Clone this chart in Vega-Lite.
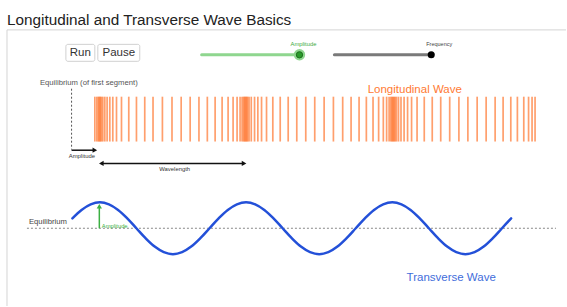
{
  "$schema": "https://vega.github.io/schema/vega-lite/v6.json",
  "width": 567,
  "height": 307,
  "padding": 0,
  "autosize": {"type": "fit", "contains": "padding"},
  "background": "white",
  "config": {"view": {"stroke": null}, "font": "Liberation Sans"},
  "encoding": {
    "x": {"field": "x", "type": "quantitative", "scale": {"domain": [0, 567], "nice": false, "zero": false}, "axis": null},
    "y": {"field": "y", "type": "quantitative", "scale": {"domain": [0, 307], "nice": false, "zero": false, "reverse": true}, "axis": null}
  },
  "layer": [
    {
      "data": {"values": [{"x": 7, "y": 30, "x2": 567, "y2": 30}, {"x": 7, "y": 30, "x2": 7, "y2": 307}]},
      "mark": {"type": "rule", "color": "#d4d4d4", "strokeWidth": 1},
      "encoding": {"x2": {"field": "x2"}, "y2": {"field": "y2"}}
    },
    {
      "data": {"values": [{"x": 7, "y": 25, "t": "Longitudinal and Transverse Wave Basics"}]},
      "mark": {"type": "text", "align": "left", "baseline": "alphabetic", "fontSize": 15.3, "color": "#222222"},
      "encoding": {"text": {"field": "t"}}
    },
    {
      "data": {"values": [{"x": 66, "x2": 95, "y": 44.5, "y2": 61.5}, {"x": 98, "x2": 140, "y": 44.5, "y2": 61.5}]},
      "mark": {"type": "rect", "fill": "white", "stroke": "#d0d0d0", "strokeWidth": 1, "cornerRadius": 2},
      "encoding": {"x2": {"field": "x2"}, "y2": {"field": "y2"}}
    },
    {
      "data": {"values": [{"x": 80.5, "y": 53, "t": "Run"}, {"x": 119, "y": 53, "t": "Pause"}]},
      "mark": {"type": "text", "align": "center", "baseline": "middle", "fontSize": 11.5, "color": "#333333"},
      "encoding": {"text": {"field": "t"}}
    },
    {
      "data": {"values": [{"x": 202, "x2": 300, "y": 55}]},
      "mark": {"type": "rule", "color": "#8fd68f", "strokeWidth": 3, "strokeCap": "round"},
      "encoding": {"x2": {"field": "x2"}}
    },
    {
      "data": {"values": [{"x": 335, "x2": 432, "y": 55}]},
      "mark": {"type": "rule", "color": "#7a7a7a", "strokeWidth": 3, "strokeCap": "round"},
      "encoding": {"x2": {"field": "x2"}}
    },
    {
      "data": {"values": [{"x": 300, "y": 55}]},
      "mark": {"type": "point", "shape": "circle", "filled": true, "size": 130, "color": "#8fd68f", "opacity": 1}
    },
    {
      "data": {"values": [{"x": 300, "y": 55}]},
      "mark": {"type": "point", "shape": "circle", "filled": true, "size": 40, "color": "#2a9a2a", "stroke": "#1a6e1a", "strokeWidth": 1, "opacity": 1}
    },
    {
      "data": {"values": [{"x": 432, "y": 55}]},
      "mark": {"type": "point", "shape": "circle", "filled": true, "size": 50, "color": "#000000", "opacity": 1}
    },
    {
      "data": {"values": [{"x": 304, "y": 44, "t": "Amplitude"}]},
      "mark": {"type": "text", "align": "center", "baseline": "middle", "fontSize": 5.8, "color": "#3daa3d"},
      "encoding": {"text": {"field": "t"}}
    },
    {
      "data": {"values": [{"x": 440, "y": 44, "t": "Frequency"}]},
      "mark": {"type": "text", "align": "center", "baseline": "middle", "fontSize": 5.5, "color": "#444444"},
      "encoding": {"text": {"field": "t"}}
    },
    {
      "data": {"values": [{"x": 40, "y": 83, "t": "Equilibrium (of first segment)"}]},
      "mark": {"type": "text", "align": "left", "baseline": "middle", "fontSize": 7.7, "color": "#555555"},
      "encoding": {"text": {"field": "t"}}
    },
    {
      "data": {"values": [{"x": 71.7, "y": 89, "y2": 150}]},
      "mark": {"type": "rule", "color": "#555555", "strokeWidth": 1, "strokeDash": [2, 2]},
      "encoding": {"y2": {"field": "y2"}}
    },
    {
      "data": {"values": [{"x": 71.7, "x2": 94, "y": 150.7}, {"x": 102, "x2": 244, "y": 164}]},
      "mark": {"type": "rule", "color": "#111111", "strokeWidth": 1.5},
      "encoding": {"x2": {"field": "x2"}}
    },
    {
      "data": {"values": [{"x": 95, "y": 150.7}, {"x": 244.5, "y": 164}]},
      "mark": {"type": "point", "shape": "triangle-right", "filled": true, "size": 28, "color": "#111111", "opacity": 1}
    },
    {
      "data": {"values": [{"x": 101.5, "y": 164}]},
      "mark": {"type": "point", "shape": "triangle-left", "filled": true, "size": 28, "color": "#111111", "opacity": 1}
    },
    {
      "data": {"values": [{"x": 82, "y": 157, "t": "Amplitude"}, {"x": 175, "y": 170, "t": "Wavelength"}]},
      "mark": {"type": "text", "align": "center", "baseline": "middle", "fontSize": 5.9, "color": "#333333"},
      "encoding": {"text": {"field": "t"}}
    },
    {
      "data": {"values": [
        {"x": 95, "y": 97, "y2": 142}, {"x": 97, "y": 97, "y2": 142}, {"x": 98.5, "y": 97, "y2": 142}, {"x": 99.5, "y": 97, "y2": 142},
        {"x": 100.5, "y": 97, "y2": 142}, {"x": 101.5, "y": 97, "y2": 142}, {"x": 103, "y": 97, "y2": 142}, {"x": 105, "y": 97, "y2": 142},
        {"x": 107.3, "y": 97, "y2": 142}, {"x": 110, "y": 97, "y2": 142}, {"x": 113, "y": 97, "y2": 142}, {"x": 116.7, "y": 97, "y2": 142},
        {"x": 121.7, "y": 97, "y2": 142}, {"x": 129, "y": 97, "y2": 142}, {"x": 136.7, "y": 97, "y2": 142}, {"x": 145, "y": 97, "y2": 142},
        {"x": 153.3, "y": 97, "y2": 142}, {"x": 162.7, "y": 97, "y2": 142}, {"x": 172.3, "y": 97, "y2": 142}, {"x": 181.5, "y": 97, "y2": 142},
        {"x": 190.5, "y": 97, "y2": 142}, {"x": 199.3, "y": 97, "y2": 142}, {"x": 207.7, "y": 97, "y2": 142}, {"x": 215.5, "y": 97, "y2": 142},
        {"x": 222.5, "y": 97, "y2": 142}, {"x": 228.5, "y": 97, "y2": 142}, {"x": 233.5, "y": 97, "y2": 142}, {"x": 237.5, "y": 97, "y2": 142},
        {"x": 240.5, "y": 97, "y2": 142}, {"x": 242.5, "y": 97, "y2": 142}, {"x": 244, "y": 97, "y2": 142}, {"x": 245, "y": 97, "y2": 142},
        {"x": 246, "y": 97, "y2": 142}, {"x": 247, "y": 97, "y2": 142}, {"x": 248, "y": 97, "y2": 142}, {"x": 249.5, "y": 97, "y2": 142},
        {"x": 251.7, "y": 97, "y2": 142}, {"x": 255, "y": 97, "y2": 142}, {"x": 258.3, "y": 97, "y2": 142}, {"x": 262, "y": 97, "y2": 142},
        {"x": 267, "y": 97, "y2": 142}, {"x": 273.3, "y": 97, "y2": 142}, {"x": 280.7, "y": 97, "y2": 142}, {"x": 288.7, "y": 97, "y2": 142},
        {"x": 297.3, "y": 97, "y2": 142}, {"x": 306.3, "y": 97, "y2": 142}, {"x": 315.3, "y": 97, "y2": 142}, {"x": 324.7, "y": 97, "y2": 142},
        {"x": 334, "y": 97, "y2": 142}, {"x": 343.3, "y": 97, "y2": 142}, {"x": 351.7, "y": 97, "y2": 142}, {"x": 359.7, "y": 97, "y2": 142},
        {"x": 367, "y": 97, "y2": 142}, {"x": 373.7, "y": 97, "y2": 142}, {"x": 379.3, "y": 97, "y2": 142}, {"x": 384, "y": 97, "y2": 142},
        {"x": 387.3, "y": 97, "y2": 142}, {"x": 389.8, "y": 97, "y2": 142}, {"x": 391.5, "y": 97, "y2": 142}, {"x": 392.7, "y": 97, "y2": 142},
        {"x": 393.7, "y": 97, "y2": 142}, {"x": 394.7, "y": 97, "y2": 142}, {"x": 395.8, "y": 97, "y2": 142}, {"x": 397.2, "y": 97, "y2": 142},
        {"x": 399.2, "y": 97, "y2": 142}, {"x": 401.7, "y": 97, "y2": 142}, {"x": 404.8, "y": 97, "y2": 142}, {"x": 408.3, "y": 97, "y2": 142},
        {"x": 412.3, "y": 97, "y2": 142}, {"x": 417.8, "y": 97, "y2": 142}, {"x": 425, "y": 97, "y2": 142}, {"x": 433, "y": 97, "y2": 142},
        {"x": 441.5, "y": 97, "y2": 142}, {"x": 450.5, "y": 97, "y2": 142}, {"x": 459.7, "y": 97, "y2": 142}, {"x": 468.7, "y": 97, "y2": 142},
        {"x": 478, "y": 97, "y2": 142}, {"x": 487, "y": 97, "y2": 142}, {"x": 496, "y": 97, "y2": 142}, {"x": 504, "y": 97, "y2": 142},
        {"x": 511.7, "y": 97, "y2": 142}, {"x": 518.3, "y": 97, "y2": 142}, {"x": 524.7, "y": 97, "y2": 142}, {"x": 529.5, "y": 97, "y2": 142},
        {"x": 533, "y": 97, "y2": 142}, {"x": 536, "y": 97, "y2": 142}
      ]},
      "mark": {"type": "rule", "color": "#ff6414", "opacity": 0.62, "strokeWidth": 1.7},
      "encoding": {"y2": {"field": "y2"}}
    },
    {
      "data": {"values": [{"x": 415.5, "y": 90, "t": "Longitudinal Wave"}]},
      "mark": {"type": "text", "align": "center", "baseline": "middle", "fontSize": 11.5, "color": "#ff7a33"},
      "encoding": {"text": {"field": "t"}}
    },
    {
      "data": {"values": [{"x": 27, "x2": 557, "y": 229}]},
      "mark": {"type": "rule", "color": "#888888", "strokeWidth": 1, "strokeDash": [2, 2]},
      "encoding": {"x2": {"field": "x2"}}
    },
    {
      "data": {"values": [{"x": 29, "y": 223, "t": "Equilibrium"}]},
      "mark": {"type": "text", "align": "left", "baseline": "middle", "fontSize": 7.7, "color": "#444444"},
      "encoding": {"text": {"field": "t"}}
    },
    {
      "data": {"values": [
        {"x": 72.53, "y": 219.05}, {"x": 81.69, "y": 210.62}, {"x": 90.84, "y": 204.98}, {"x": 100, "y": 203},
        {"x": 109.16, "y": 204.98}, {"x": 118.31, "y": 210.62}, {"x": 127.47, "y": 219.05}, {"x": 136.63, "y": 229},
        {"x": 145.78, "y": 238.95}, {"x": 154.94, "y": 247.38}, {"x": 164.09, "y": 253.02}, {"x": 173.25, "y": 255},
        {"x": 182.41, "y": 253.02}, {"x": 191.56, "y": 247.38}, {"x": 200.72, "y": 238.95}, {"x": 209.88, "y": 229},
        {"x": 219.03, "y": 219.05}, {"x": 228.19, "y": 210.62}, {"x": 237.34, "y": 204.98}, {"x": 246.5, "y": 203},
        {"x": 255.66, "y": 204.98}, {"x": 264.81, "y": 210.62}, {"x": 273.97, "y": 219.05}, {"x": 283.13, "y": 229},
        {"x": 292.28, "y": 238.95}, {"x": 301.44, "y": 247.38}, {"x": 310.59, "y": 253.02}, {"x": 319.75, "y": 255},
        {"x": 328.91, "y": 253.02}, {"x": 338.06, "y": 247.38}, {"x": 347.22, "y": 238.95}, {"x": 356.38, "y": 229},
        {"x": 365.53, "y": 219.05}, {"x": 374.69, "y": 210.62}, {"x": 383.84, "y": 204.98}, {"x": 393, "y": 203},
        {"x": 402.16, "y": 204.98}, {"x": 411.31, "y": 210.62}, {"x": 420.47, "y": 219.05}, {"x": 429.63, "y": 229},
        {"x": 438.78, "y": 238.95}, {"x": 447.94, "y": 247.38}, {"x": 457.09, "y": 253.02}, {"x": 466.25, "y": 255},
        {"x": 475.41, "y": 253.02}, {"x": 484.56, "y": 247.38}, {"x": 493.72, "y": 238.95}, {"x": 502.88, "y": 229},
        {"x": 512.03, "y": 219.05}
      ]},
      "mark": {"type": "line", "color": "#2350d8", "strokeWidth": 2.5, "interpolate": "catmull-rom", "strokeCap": "round"}
    },
    {
      "data": {"values": [{"x": 99.5, "y": 229, "y2": 208}]},
      "mark": {"type": "rule", "color": "#3cb043", "strokeWidth": 1.5},
      "encoding": {"y2": {"field": "y2"}}
    },
    {
      "data": {"values": [{"x": 99.5, "y": 207}]},
      "mark": {"type": "point", "shape": "triangle-up", "filled": true, "size": 28, "color": "#3cb043", "opacity": 1}
    },
    {
      "data": {"values": [{"x": 102, "y": 227, "t": "Amplitude"}]},
      "mark": {"type": "text", "align": "left", "baseline": "middle", "fontSize": 5.8, "color": "#3cb043"},
      "encoding": {"text": {"field": "t"}}
    },
    {
      "data": {"values": [{"x": 452, "y": 279, "t": "Transverse Wave"}]},
      "mark": {"type": "text", "align": "center", "baseline": "middle", "fontSize": 11.5, "color": "#3f6ddb"},
      "encoding": {"text": {"field": "t"}}
    }
  ]
}
